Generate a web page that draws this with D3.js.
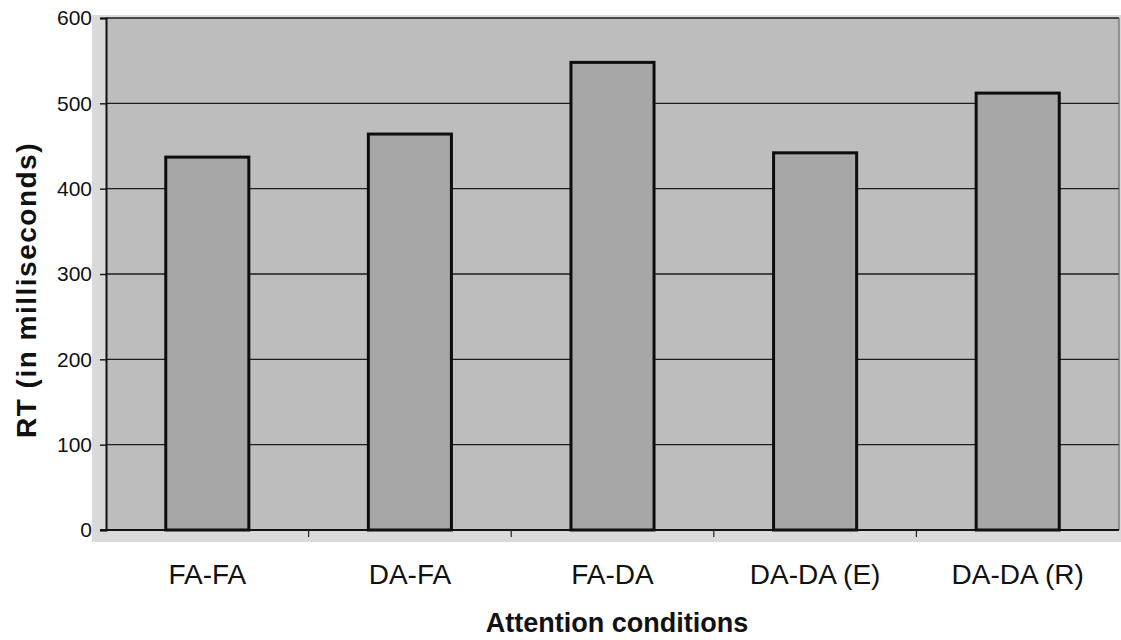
<!DOCTYPE html>
<html>
<head>
<meta charset="utf-8">
<script src="https://cdn.jsdelivr.net/npm/d3@7"></script>
<style>
  body { margin: 0; background: #fff; }
  text { font-family: "Liberation Sans", Arial, sans-serif; fill: #111; }
</style>
</head>
<body>
<div id="chart-area"></div>
<script>
// data
var conditions = ["FA-FA", "DA-FA", "FA-DA", "DA-DA (E)", "DA-DA (R)"];
var rtValues = [437, 464, 548, 442, 512];
var yTicks = [0, 100, 200, 300, 400, 500, 600];

var W = 1121, H = 640;
var margin = { left: 106, right: 2, top: 18, bottom: 110 };
var width = W - margin.left - margin.right;
var height = H - margin.top - margin.bottom;

var svg = d3.select("#chart-area")
    .append("svg")
    .attr("width", W)
    .attr("height", H);

// light outer strip around the plot
svg.append("rect")
    .attr("x", 92).attr("y", 15)
    .attr("width", W - 92).attr("height", 542 - 15)
    .attr("fill", "#dadada");

var g = svg.append("g")
    .attr("transform", "translate(" + margin.left + "," + margin.top + ")");

var x = d3.scaleBand()
    .domain(conditions)
    .range([0, width])
    .paddingInner(0.59)
    .paddingOuter(0.295);

var xTickScale = d3.scaleBand()
    .domain(conditions)
    .range([0, width]);

var y = d3.scaleLinear()
    .domain([0, 600])
    .range([height, 0]);

// plot background
g.append("rect")
    .attr("width", width)
    .attr("height", height)
    .attr("fill", "#bdbdbd");

// gridlines
g.append("g")
    .selectAll("line")
    .data(yTicks.slice(1))
    .enter()
    .append("line")
    .attr("x1", 0)
    .attr("x2", width)
    .attr("y1", function (d) { return y(d); })
    .attr("y2", function (d) { return y(d); })
    .attr("stroke", "#1e1e1e")
    .attr("stroke-width", 1.4);

// right edge
g.append("line")
    .attr("x1", width).attr("x2", width)
    .attr("y1", 0).attr("y2", height)
    .attr("stroke", "#555")
    .attr("stroke-width", 1);

// bars
g.selectAll("rect.bar")
    .data(conditions)
    .enter()
    .append("rect")
    .attr("class", "bar")
    .attr("x", function (d) { return x(d); })
    .attr("y", function (d, i) { return y(rtValues[i]); })
    .attr("width", x.bandwidth())
    .attr("height", function (d, i) { return height - y(rtValues[i]); })
    .attr("fill", "#a7a7a7")
    .attr("stroke", "#0d0d0d")
    .attr("stroke-width", 3);

// y axis
var yAxisCall = d3.axisLeft(y)
    .tickValues(yTicks)
    .tickSize(6)
    .tickPadding(8);
var yAxisGroup = g.append("g").attr("class", "y-axis").call(yAxisCall);
yAxisGroup.select(".domain").attr("stroke", "#111").attr("stroke-width", 2);
yAxisGroup.selectAll("line").attr("stroke", "#111").attr("stroke-width", 1.4);
yAxisGroup.selectAll("text")
    .attr("font-size", "21px")
    .attr("font-family", "Liberation Sans, Arial, sans-serif")
    .attr("fill", "#111");

// x axis (ticks between categories)
var xAxisGroup = g.append("g")
    .attr("class", "x-axis")
    .attr("transform", "translate(0," + height + ")");
xAxisGroup.append("line")
    .attr("x1", -6).attr("x2", width)
    .attr("stroke", "#111").attr("stroke-width", 2);
xAxisGroup.selectAll("line.tick")
    .data(conditions.slice(1))
    .enter()
    .append("line")
    .attr("class", "tick")
    .attr("x1", function (d) { return xTickScale(d); })
    .attr("x2", function (d) { return xTickScale(d); })
    .attr("y1", 0).attr("y2", 7)
    .attr("stroke", "#222").attr("stroke-width", 1.2);
xAxisGroup.selectAll("text")
    .data(conditions)
    .enter()
    .append("text")
    .attr("x", function (d) { return x(d) + x.bandwidth() / 2; })
    .attr("y", 54)
    .attr("text-anchor", "middle")
    .attr("font-size", "28px")
    .text(function (d) { return d; });

// x label
svg.append("text")
    .attr("x", 617)
    .attr("y", 632)
    .attr("text-anchor", "middle")
    .attr("font-size", "27px")
    .attr("font-weight", "bold")
    .text("Attention conditions");

// y label
svg.append("text")
    .attr("transform", "translate(36,290) rotate(-90)")
    .attr("text-anchor", "middle")
    .attr("font-size", "28px")
    .attr("font-weight", "bold")
    .attr("letter-spacing", "1.5px")
    .text("RT (in milliseconds)");
</script>
</body>
</html>
